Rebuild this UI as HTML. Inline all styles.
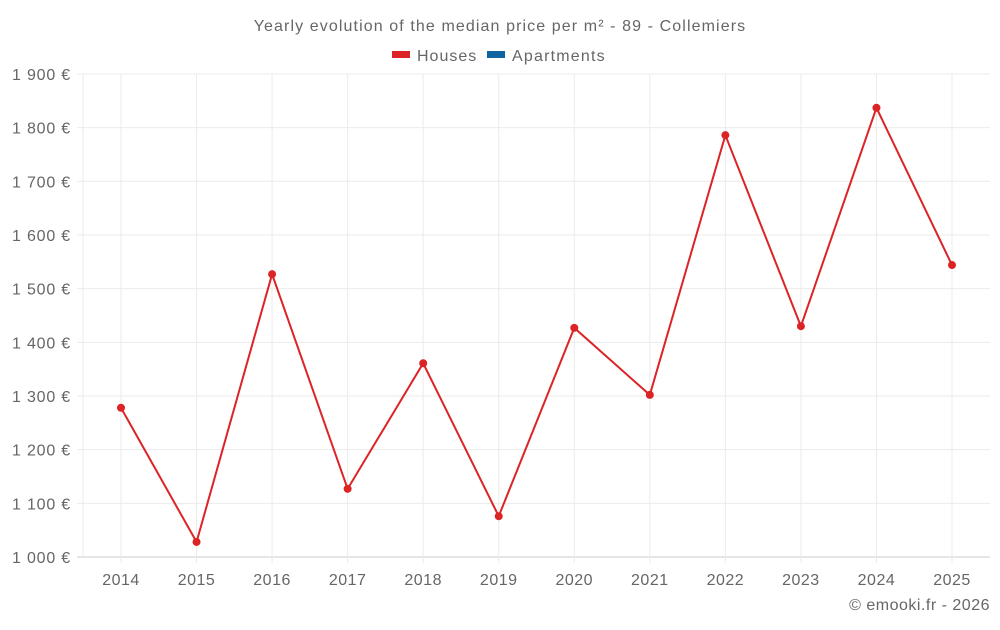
<!DOCTYPE html>
<html><head><meta charset="utf-8"><style>
body{margin:0;background:#fff;font-family:"Liberation Sans",sans-serif;}
svg text{font-family:"Liberation Sans",sans-serif;fill:#666;}
</style></head><body>
<svg id="chart" width="1000" height="625">
<text x="500" y="31" text-anchor="middle" font-size="16" letter-spacing="1.1">Yearly evolution of the median price per m² - 89 - Collemiers</text>
<g>
<g><rect x="392" y="51" width="18" height="7" fill="#dc2325"/><text x="417" y="61" font-size="16" letter-spacing="1">Houses</text></g>
<g><rect x="487" y="51" width="18" height="7" fill="#0e64a0"/><text x="512" y="61" font-size="16" letter-spacing="1.2">Apartments</text></g>
</g>
<g id="grid"></g><g id="axes"></g><g id="series"></g>
<text x="990" y="610" text-anchor="end" font-size="16" letter-spacing="0.5">© emooki.fr - 2026</text>
</svg>
<script>
const years=[2014,2015,2016,2017,2018,2019,2020,2021,2022,2023,2024,2025];
const houses=[1278,1028,1527,1127,1361,1076,1427,1302,1786,1430,1837,1544];
const yTicks=[1000,1100,1200,1300,1400,1500,1600,1700,1800,1900];
const NS="http://www.w3.org/2000/svg";
const L=83,R=990,T=74,B=557,yMin=1000,yMax=1900;
const x=i=>121+i*(952-121)/(years.length-1);
const y=v=>B-(v-yMin)/(yMax-yMin)*(B-T);
function mk(t,a,p){const e=document.createElementNS(NS,t);for(const k in a)e.setAttribute(k,a[k]);p.appendChild(e);return e;}
const g=document.getElementById('grid'),ax=document.getElementById('axes'),s=document.getElementById('series');
yTicks.forEach(v=>{
const ln=mk('line',{x1:77,x2:R,y1:y(v),y2:y(v),stroke:v===yMin?'#ccc':'#ebebeb'},g);


const t=mk('text',{x:71,y:y(v)+6,'text-anchor':'end','font-size':16,'letter-spacing':0.8},ax);
t.textContent=String(v).replace(/\B(?=(\d{3})+$)/,' ')+' €';


});
mk('line',{x1:L,x2:L,y1:T,y2:B,stroke:'#ebebeb'},g);
years.forEach((yr,i)=>{
const ln=mk('line',{x1:x(i),x2:x(i),y1:T,y2:B+6,stroke:'#ebebeb'},g);


const t=mk('text',{x:x(i),y:585,'text-anchor':'middle','font-size':16,'letter-spacing':0.5},ax);
t.textContent=yr;


});
const pl=mk('polyline',{points:houses.map((v,i)=>x(i)+','+y(v)).join(' '),fill:'none',stroke:'#dc2325','stroke-width':2},s);


houses.forEach((v,i)=>{
const c=mk('circle',{cx:x(i),cy:y(v),r:4,fill:'#dc2325'},s);


});
</script>
</body></html>
